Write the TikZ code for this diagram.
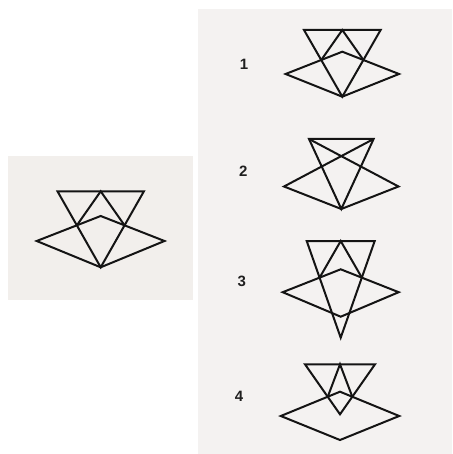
\documentclass[tikz,border=0pt]{standalone}
\usepackage{fontspec}
\setsansfont{Liberation Sans}
\usepackage{xcolor}
\usepackage{tikz}

\definecolor{paperleft}{HTML}{F2EFEC}
\definecolor{paperright}{HTML}{F4F2F1}
\tikzset{
  figline/.style={line width=2pt, line join=miter, black!92},
  numlabel/.style={font=\sffamily\bfseries\fontsize{15}{17}\selectfont, text=black!88}
}

\begin{document}
\begin{tikzpicture}[x=1pt, y=-1pt]
  \useasboundingbox (0,0) rectangle (452,454);
  \fill[paperleft] (8,156) rectangle (193,300);
  \fill[paperright] (198,9) rectangle (452,454);

  % given figure (0) and choices 1, 3, 4: triangle tl-tr-a, rhombus l-t-r-b
  \coordinate (tl0) at (57.5,191.3);  \coordinate (tr0) at (143.9,191.3);
  \coordinate (m0) at (100.7,191.3);  \coordinate (a0) at (100.7,267.3);
  \coordinate (l0) at (36.7,241);     \coordinate (r0) at (164.5,241);
  \coordinate (t0) at (100.7,216);    \coordinate (b0) at (100.7,267.3);

  \coordinate (tl1) at (304,30);      \coordinate (tr1) at (380.6,30);
  \coordinate (m1) at (342.3,30);     \coordinate (a1) at (342.3,96.7);
  \coordinate (l1) at (285.6,74);     \coordinate (r1) at (399,74);
  \coordinate (t1) at (342.3,51.7);   \coordinate (b1) at (342.3,96.7);

  \coordinate (tl3) at (306.7,241);   \coordinate (tr3) at (374.7,241);
  \coordinate (m3) at (340.7,241);    \coordinate (a3) at (340.7,337.7);
  \coordinate (l3) at (282.7,292.2);  \coordinate (r3) at (398.7,292.2);
  \coordinate (t3) at (340.7,269.3);  \coordinate (b3) at (340.7,316.7);

  \coordinate (tl4) at (305,364.3);   \coordinate (tr4) at (375,364.3);
  \coordinate (m4) at (340,364.3);    \coordinate (a4) at (340,414.3);
  \coordinate (l4) at (280.8,416);    \coordinate (r4) at (399.2,416);
  \coordinate (t4) at (340,391.7);    \coordinate (b4) at (340,440);

  \foreach \k in {0,1,3,4} {
    \draw[figline] (tl\k) -- (tr\k) -- (a\k) -- cycle;
    \draw[figline] (l\k) -- (t\k) -- (r\k) -- (b\k) -- cycle;
    \coordinate (p\k) at (intersection cs: first line={(tl\k)--(a\k)}, second line={(l\k)--(t\k)});
    \coordinate (q\k) at (intersection cs: first line={(tr\k)--(a\k)}, second line={(t\k)--(r\k)});
    \draw[figline] (p\k) -- (m\k) -- (q\k);
  }

  % choice 2
  \coordinate (tl2) at (309,139);     \coordinate (tr2) at (373.6,139);
  \coordinate (b2) at (341.3,209);
  \coordinate (l2) at (284,186.5);    \coordinate (r2) at (398.5,186.5);
  \draw[figline] (tl2) -- (tr2) -- (b2) -- cycle;
  \draw[figline] (tl2) -- (r2) -- (b2) -- (l2) -- (tr2);

  % answer numbers
  \node[numlabel] (n1) at (244,64) {1};
  \node[numlabel] (n2) at (243.3,171.7) {2};
  \node[numlabel] (n3) at (241.7,281) {3};
  \node[numlabel] (n4) at (239,396.5) {4};
\end{tikzpicture}
\end{document}
